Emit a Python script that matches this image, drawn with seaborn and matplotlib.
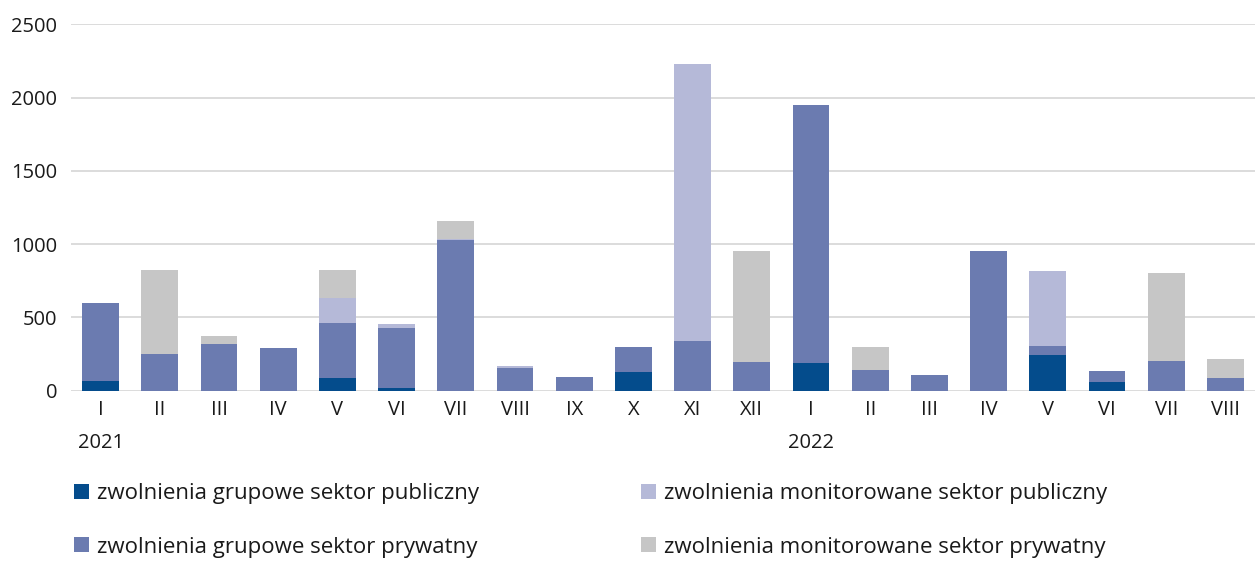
import numpy as np
import pandas as pd
import matplotlib
matplotlib.use("Agg")
import matplotlib.pyplot as plt
from matplotlib.patches import Patch
from matplotlib.transforms import blended_transform_factory
import seaborn as sns

months = ["I", "II", "III", "IV", "V", "VI", "VII", "VIII", "IX", "X", "XI", "XII",
          "I", "II", "III", "IV", "V", "VI", "VII", "VIII"]
years = ["2021", "2022"]
year_start_idx = [0, 12]

grupowe_publiczny = [66, 0, 0, 0, 86, 18, 0, 0, 0, 127, 0, 0,
                     189, 0, 0, 0, 243, 59, 0, 0]
grupowe_prywatny = [532, 250, 318, 291, 375, 409, 1027, 155, 93, 171, 339, 195,
                    1759, 141, 107, 952, 62, 75, 202, 86]
monitorowane_publiczny = [0, 0, 0, 0, 171, 28, 9, 13, 0, 0, 1888, 0,
                          0, 0, 0, 0, 511, 0, 0, 0]
monitorowane_prywatny = [0, 573, 55, 0, 191, 0, 121, 0, 0, 0, 0, 757,
                         0, 157, 0, 0, 0, 0, 600, 130]

labels = ["zwolnienia grupowe sektor publiczny",
          "zwolnienia grupowe sektor prywatny",
          "zwolnienia monitorowane sektor publiczny",
          "zwolnienia monitorowane sektor prywatny"]
colors = ["#044C8C", "#6B7BB0", "#B5B9D8", "#C6C6C6"]

sns.set_theme(style="white")
plt.rcParams["font.family"] = ["Open Sans", "DejaVu Sans"]

series = [grupowe_publiczny, grupowe_prywatny, monitorowane_publiczny, monitorowane_prywatny]
cum = np.cumsum(np.array(series, dtype=float), axis=0)
pos = list(range(len(months)))

fig = plt.figure(figsize=(12.55, 5.61), dpi=100)
ax = fig.add_axes([0.0566, 0.3036, 0.9434, 0.6531])

for level in range(3, -1, -1):
    df = pd.DataFrame({"pos": pos, "val": cum[level]})
    sns.barplot(data=df, x="pos", y="val", color=colors[level], width=0.62,
                saturation=1, ax=ax, zorder=3, linewidth=0)

ax.set_ylim(0, 2500)
ax.set_xlim(-0.5, len(months) - 0.5)
ax.set_yticks([0, 500, 1000, 1500, 2000, 2500])
ax.set_xticks(pos)
ax.set_xticklabels(months)
ax.set_xlabel("")
ax.set_ylabel("")
ax.yaxis.grid(True, color="#D9D9D9", linewidth=1.3, zorder=0)
ax.xaxis.grid(False)
ax.set_axisbelow(True)
for s in ax.spines.values():
    s.set_visible(False)
ax.tick_params(axis="y", length=0, pad=10, labelsize=14.5, labelcolor="#1a1a1a")
ax.tick_params(axis="x", length=0, pad=7, labelsize=14.5, labelcolor="#1a1a1a")

trans = blended_transform_factory(ax.transData, ax.transAxes)
for y, i in zip(years, year_start_idx):
    ax.text(i, -0.143, y, transform=trans, ha="center", va="center",
            fontsize=14.5, color="#1a1a1a")

handles = [Patch(facecolor=c, edgecolor="none") for c in colors]
fig.legend(handles, labels, ncol=2, loc="lower left",
           bbox_to_anchor=(74 / 1255, 3.5 / 561), bbox_transform=fig.transFigure,
           frameon=False, borderpad=0, borderaxespad=0,
           fontsize=16, handlelength=0.68, handleheight=0.68, handletextpad=0.36,
           columnspacing=7.3, labelspacing=1.44, labelcolor="#1a1a1a")

fig.savefig("out.png", dpi=100)
